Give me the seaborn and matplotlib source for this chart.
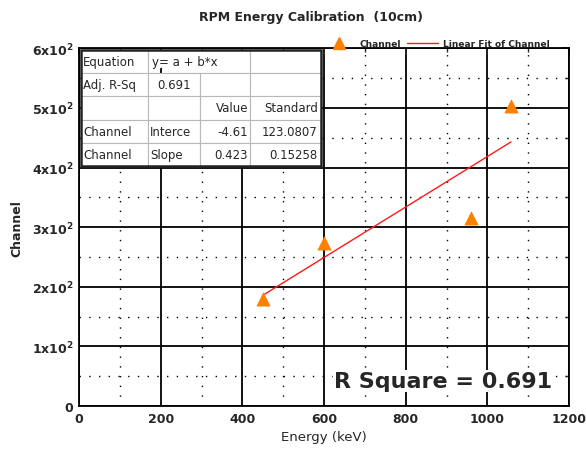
import matplotlib
matplotlib.use("Agg")
import matplotlib.pyplot as plt
import seaborn as sns
import numpy as np
import pandas as pd
from matplotlib.lines import Line2D
from matplotlib.patches import Rectangle

# Data
energy = [450, 600, 960, 1058]
channel = [180, 273, 315, 503]
fit_intercept = -4.61
fit_slope = 0.423
xticks = [0, 200, 400, 600, 800, 1000, 1200]
yticks = [0, 100, 200, 300, 400, 500, 600]
ytick_labels = ["0", "1x10$^2$", "2x10$^2$", "3x10$^2$", "4x10$^2$", "5x10$^2$", "6x10$^2$"]
table_rows = [
    ["Equation", "", "", ""],
    ["Adj. R-Sq", "0.691", "", ""],
    ["", "", "Value", "Standard"],
    ["Channel", "Interce", "-4.61", "123.0807"],
    ["Channel", "Slope", "0.423", "0.15258"],
]
equation_text = "y= a + b*x"

sns.set_style("white")
plt.rcParams['font.family'] = ['DejaVu Sans']
plt.rcParams['mathtext.default'] = 'regular'

fig = plt.figure(figsize=(5.86, 4.60), dpi=100)
ax = fig.add_axes([0.135, 0.115, 0.836, 0.778])

df = pd.DataFrame({"Energy": energy, "Channel": channel})
fit_x = np.array([min(energy), max(energy)])
fit_df = pd.DataFrame({"x": fit_x, "y": fit_intercept + fit_slope * fit_x})

# grid
ax.set_xlim(0, 1200)
ax.set_ylim(0, 600)
ax.set_xticks(xticks)
ax.set_xticks(np.arange(100, 1200, 200), minor=True)
ax.set_yticks(yticks)
ax.set_yticks(np.arange(50, 600, 100), minor=True)
ax.grid(which='major', color='black', linewidth=1.3, linestyle='-')
ax.grid(which='minor', color='black', linewidth=1.0, linestyle=(0, (1, 6)))
ax.set_axisbelow(True)

sns.lineplot(data=fit_df, x="x", y="y", color="#ff1a1a", linewidth=1.0, ax=ax, zorder=3)
sns.scatterplot(data=df, x="Energy", y="Channel", marker="^", s=90, color="#ff8000",
                edgecolor="#ff8000", linewidth=0.5, ax=ax, zorder=4)

ax.set_yticklabels(ytick_labels)
ax.tick_params(which='major', direction='in', length=5, width=1.2, top=True, right=True,
               labelsize=9, pad=4)
ax.tick_params(which='minor', direction='in', length=3, width=1.0, top=True, right=True)
for lab in ax.get_xticklabels() + ax.get_yticklabels():
    lab.set_fontweight('bold')
for s in ax.spines.values():
    s.set_color('black')
    s.set_linewidth(1.3)

ax.set_xlabel("Energy (keV)", fontsize=9.5, labelpad=4)
ax.set_ylabel("Channel", fontsize=9, fontweight='bold', labelpad=6)
fig.suptitle("RPM Energy Calibration  (10cm)", x=0.53, y=0.975, fontsize=9, fontweight='bold')

# legend
handles = [Line2D([], [], marker='^', color='#ff8000', linestyle='None', markersize=9),
           Line2D([], [], color='#ff1a1a', linewidth=1.0)]
fig.legend(handles, ["Channel", "Linear Fit of Channel"], loc='center', bbox_to_anchor=(0.745, 0.903),
           ncol=2, frameon=False, handlelength=3.5, columnspacing=0.6,
           handletextpad=0.5, prop={'weight': 'bold', 'size': 6.5})

# table
tb_x, tb_y, tb_w, tb_h = 0.003, 0.672, 0.49, 0.322
tbl = ax.table(cellText=table_rows, bbox=[tb_x, tb_y, tb_w, tb_h],
               colWidths=[67, 51, 50, 70], cellLoc='left')
tbl.auto_set_font_size(False)
tbl.set_fontsize(8.5)
tbl.set_zorder(5)
for (r, c), cell in tbl.get_celld().items():
    cell.set_edgecolor('#b8b8b8')
    cell.set_linewidth(0.8)
    cell.set_facecolor('white')
    cell.PAD = 0.04
    if c >= 2 and r >= 2:
        cell._loc = 'right'
        cell.get_text().set_ha('right')
    if r == 1 and c == 1:
        cell._loc = 'center'
        cell.get_text().set_ha('center')
tbl[0, 1].visible_edges = 'BTL'
tbl[0, 2].visible_edges = 'BTR'
col1_x = tb_x + tb_w * 67 / 238
ax.text(col1_x + 0.008, tb_y + tb_h * 0.9, equation_text, transform=ax.transAxes,
        fontsize=8.5, ha='left', va='center', zorder=7)
ax.add_patch(Rectangle((tb_x, tb_y), tb_w, tb_h, transform=ax.transAxes, fill=False,
                       edgecolor='#222222', linewidth=1.8, zorder=6))

ax.text(0.52, 0.07, "R Square = 0.691", transform=ax.transAxes, fontsize=16,
        fontweight='bold', ha='left', va='center', zorder=6,
        bbox=dict(facecolor='white', edgecolor='none', pad=1))

fig.savefig("out.png", dpi=100)
